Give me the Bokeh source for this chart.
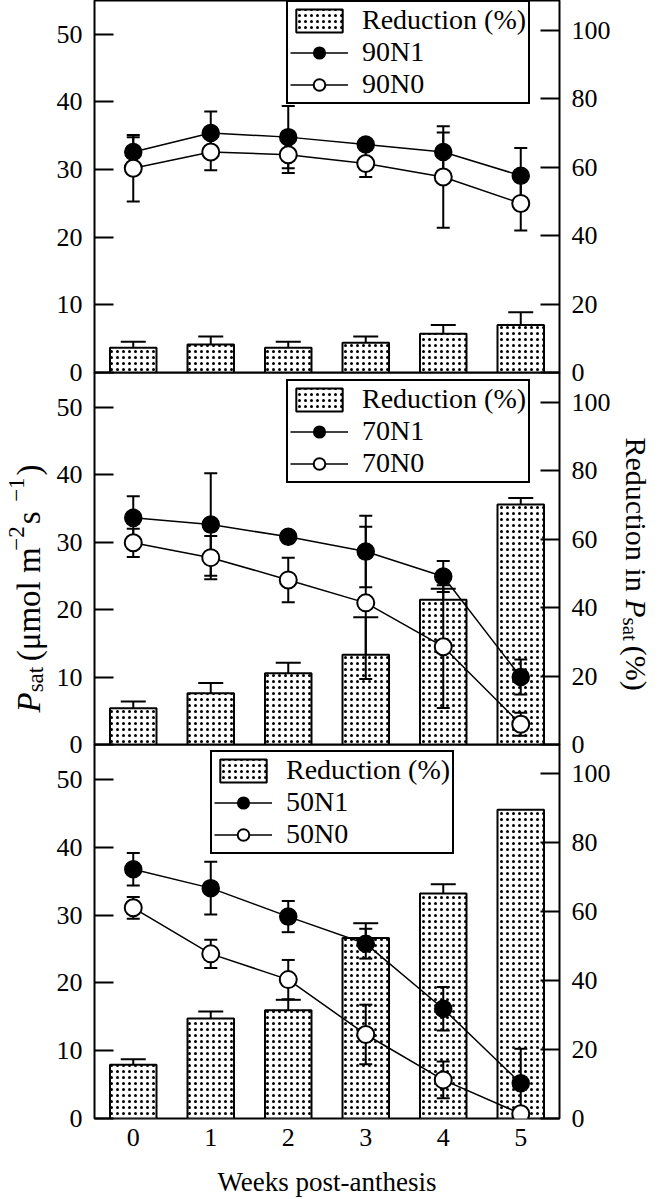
import math
from bokeh.plotting import figure
from bokeh.models import (ColumnDataSource, Range1d, LinearAxis, FixedTicker, Whisker,
                          TeeHead, Legend, LegendItem)
from bokeh.layouts import column, row
from bokeh.core.properties import value
from bokeh.embed import file_html
from bokeh.resources import INLINE

weeks = [0, 1, 2, 3, 4, 5]

# Panel 1 (90)
p90_n1 = [32.6, 35.4, 34.8, 33.7, 32.6, 29.1]
p90_n1_err = [2.2, 3.2, 4.6, 0.8, 2.9, 4.1]
p90_n0 = [30.2, 32.6, 32.2, 30.9, 28.9, 25.0]
p90_n0_err = [4.9, 2.7, 2.7, 2.0, 7.5, 4.0]
p90_red = [7.2, 8.2, 7.2, 8.7, 11.3, 13.9]
p90_red_err = [1.8, 2.3, 1.8, 1.8, 2.6, 3.7]

# Panel 2 (70)
p70_n1 = [33.6, 32.6, 30.8, 28.6, 24.9, 10.0]
p70_n1_err = [3.2, 7.6, 0.6, 5.3, 2.3, 2.6]
p70_n0 = [29.9, 27.7, 24.4, 21.0, 14.5, 3.0]
p70_n0_err = [2.1, 3.2, 3.3, 11.3, 9.1, 1.7]
p70_red = [10.6, 15.0, 20.8, 26.2, 42.3, 70.1]
p70_red_err = [2.0, 3.0, 3.1, 11.0, 3.2, 1.9]

# Panel 3 (50)
p50_n1 = [36.8, 34.0, 29.8, 25.8, 16.2, 5.2]
p50_n1_err = [2.4, 3.9, 2.3, 2.2, 3.2, 5.1]
p50_n0 = [31.1, 24.3, 20.5, 12.4, 5.7, 0.7]
p50_n0_err = [1.6, 2.1, 2.9, 4.4, 2.7, 0.0]
p50_red = [15.6, 29.0, 31.4, 52.3, 65.2, 89.5]
p50_red_err = [1.6, 2.0, 3.0, 4.3, 2.7, 0.0]

left_ticks = [0, 10, 20, 30, 40, 50]
right_ticks = [0, 20, 40, 60, 80, 100]

FONT = "Liberation Serif"
TICK_FS = "26px"
FRAME_W = 465
LEFT_W = 48
RIGHT_W = 46
H = 1199
MB_LEFT = 94 - LEFT_W
MB_RIGHT = 660 - RIGHT_W - LEFT_W - MB_LEFT - FRAME_W


def style_yaxis(ax, ticks):
    ax.ticker = FixedTicker(ticks=ticks)
    ax.axis_line_color = None
    ax.major_tick_in = 19
    ax.major_tick_out = 0
    ax.minor_tick_in = 0
    ax.minor_tick_out = 0
    ax.major_tick_line_width = 2
    ax.major_tick_line_color = "black"
    ax.major_label_text_font = FONT
    ax.major_label_text_font_size = TICK_FS
    ax.major_label_text_color = "black"
    ax.major_label_standoff = 12


def whisker(p, base, vals, errs, both, head, y_range_name="default"):
    b, up, lo = [], [], []
    for x, v, e in zip(base, vals, errs):
        if e > 0:
            b.append(x)
            up.append(v + e)
            lo.append(v - e if both else v)
    src = ColumnDataSource(dict(base=b, upper=up, lower=lo))
    w = Whisker(source=src, base="base", upper="upper", lower="lower",
                line_color="black", line_width=2, level="underlay",
                upper_head=TeeHead(size=head, line_width=2, line_color="black"),
                lower_head=TeeHead(size=head, line_width=2, line_color="black") if both else None)
    if y_range_name != "default":
        w.y_range_name = y_range_name
    p.add_layout(w)


def make_panel(tag, n1, n1e, n0, n0e, red, rede, frame_h, ymax, rmax, legend_xy,
               show_x, mb_bottom, margin):
    p = figure(frame_width=FRAME_W, frame_height=frame_h,
               x_range=Range1d(-0.5, 5.5), y_range=Range1d(0, ymax),
               output_backend="svg", toolbar_location=None,
               x_axis_location="below" if show_x else None,
               min_border_left=MB_LEFT, min_border_right=MB_RIGHT,
               min_border_top=0, min_border_bottom=mb_bottom, margin=margin,
               background_fill_alpha=0, border_fill_alpha=0)
    p.extra_y_ranges = {"pct": Range1d(0, rmax)}
    p.grid.visible = False
    p.outline_line_color = "black"
    p.outline_line_width = 2
    p.outline_line_alpha = 1

    style_yaxis(p.yaxis[0], left_ticks)
    rax = LinearAxis(y_range_name="pct")
    style_yaxis(rax, right_ticks)
    p.add_layout(rax, "right")

    if show_x:
        xa = p.xaxis[0]
        xa.ticker = FixedTicker(ticks=weeks)
        xa.axis_line_color = None
        xa.major_tick_in = 0
        xa.major_tick_out = 0
        xa.minor_tick_in = 0
        xa.minor_tick_out = 0
        xa.major_label_text_font = FONT
        xa.major_label_text_font_size = TICK_FS
        xa.major_label_text_color = "black"
        xa.major_label_standoff = 10
        xa.axis_label = "Weeks post-anthesis"
        xa.axis_label_text_font = FONT
        xa.axis_label_text_font_size = "27px"
        xa.axis_label_text_font_style = "normal"
        xa.axis_label_text_color = "black"
        xa.axis_label_standoff = 18

    bars = p.vbar(x=weeks, top=red, width=0.6, bottom=0, y_range_name="pct",
                  fill_color="white", line_color="black", line_width=2,
                  hatch_pattern="dot", hatch_color="black", hatch_scale=6,
                  hatch_weight=1.0, level="underlay")
    whisker(p, weeks, red, rede, False, 25, "pct")
    whisker(p, weeks, n1, n1e, True, 13)
    whisker(p, weeks, n0, n0e, True, 13)

    l1 = p.line(weeks, n1, line_color="black", line_width=1.5)
    l0 = p.line(weeks, n0, line_color="black", line_width=1.5)
    s1 = p.scatter(weeks, n1, size=17, fill_color="black", line_color="black", line_width=1.5)
    s0 = p.scatter(weeks, n0, size=17, fill_color="white", line_color="black", line_width=2)

    leg = Legend(items=[LegendItem(label="Reduction (%)", renderers=[bars]),
                        LegendItem(label=tag + "N1", renderers=[l1, s1]),
                        LegendItem(label=tag + "N0", renderers=[l0, s0])],
                 location=legend_xy, orientation="vertical",
                 glyph_width=58, glyph_height=29, label_height=29, spacing=0,
                 padding=2, margin=0, label_standoff=14,
                 label_text_font=FONT, label_text_font_size="28px",
                 label_text_color="black",
                 border_line_color="black", border_line_width=2, border_line_alpha=1,
                 background_fill_color="white", background_fill_alpha=1)
    p.add_layout(leg)
    return p


Y1, Y2, Y3 = 55.0, 55.15, 55.2
p1 = make_panel("90", p90_n1, p90_n1_err, p90_n0, p90_n0_err, p90_red, p90_red_err,
                372, Y1, 108.7, (192, 268), False, 14, (0, 0, 0, 0))
p2 = make_panel("70", p70_n1, p70_n1_err, p70_n0, p70_n0_err, p70_red, p70_red_err,
                372, Y2, 108.7, (192, 261), False, 14, (-14, 0, 0, 0))
p3 = make_panel("50", p50_n1, p50_n1_err, p50_n0, p50_n0_err, p50_red, p50_red_err,
                374, Y3, 108.4, (116, 264), True, 81, (-14, 0, 0, 0))


def label_strip(width):
    f = figure(width=width, height=H, x_range=Range1d(0, width), y_range=Range1d(H, 0),
               output_backend="svg", toolbar_location=None,
               x_axis_location=None, y_axis_location=None,
               min_border=0, outline_line_color=None,
               background_fill_alpha=0, border_fill_alpha=0)
    f.grid.visible = False
    return f


def seq_text(f, pieces, x0, y0, direction, angle):
    pos = y0
    for text, size, style, off, w in pieces:
        f.text(x=[x0 + off], y=[pos], text=[text], angle=angle,
               text_font=value(FONT), text_font_size=value(f"{size}px"),
               text_font_style=value(style), text_baseline="alphabetic",
               text_align="left", text_color="black")
        pos += direction * w * size


# left title: P_sat (umol m^-2 s^-1), reading bottom to top
F, g = 33, 23
left_pieces = [
    ("P", F, "italic", 0, 0.611),
    ("sat", g, "normal", 7, 1.35),
    ("(\u03bcmol m", F, "normal", 0, 3.35),
    ("\u22122", g, "normal", -12, 1.15),
    (" s", F, "normal", 0, 0.68),
    ("\u22121", g, "normal", -12, 1.15),
    (")", F, "normal", 0, 0.333),
]
left_strip = label_strip(LEFT_W)
seq_text(left_strip, left_pieces, 28, 712, -1, math.pi / 2)

# right title: Reduction in P_sat (%), reading top to bottom
G, gg = 30, 21
right_pieces = [
    ("Reduction in ", G, "normal", 0, 5.389),
    ("P", G, "italic", 0, 0.611),
    ("sat", gg, "normal", -7, 1.35),
    ("(%)", G, "normal", 0, 1.5),
]
right_strip = label_strip(RIGHT_W)
seq_text(right_strip, right_pieces, 636 - (660 - RIGHT_W), 437, 1, -math.pi / 2)

layout = row(left_strip, column(p1, p2, p3, spacing=0), right_strip, spacing=0)
open("out.html", "w").write(file_html(layout, INLINE))
